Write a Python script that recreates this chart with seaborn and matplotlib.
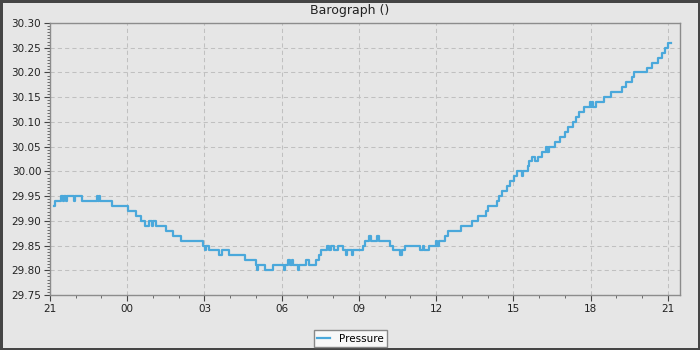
import matplotlib
matplotlib.use("Agg")
import matplotlib.pyplot as plt
import numpy as np
import pandas as pd
import seaborn as sns
from matplotlib.ticker import MultipleLocator, AutoMinorLocator, FormatStrFormatter
from matplotlib.patches import Rectangle

# hours since 21:00 of the first day, and pressure (inHg) - step changes
hours = [0.15, 0.21, 0.44, 0.50, 0.53, 0.63, 0.67, 0.93, 0.97, 1.25, 1.82, 1.86, 1.90, 1.93,
         2.42, 3.03, 3.35, 3.52, 3.70, 3.84, 3.96, 4.00, 4.13, 4.51, 4.77, 5.07, 5.94, 6.03,
         6.07, 6.18, 6.57, 6.70, 6.95, 7.57, 8.00, 8.04, 8.09, 8.35, 8.67, 9.10, 9.14, 9.25,
         9.32, 9.40, 9.45, 9.64, 9.68, 9.96, 10.07, 10.35, 10.45, 10.53, 10.75, 10.85, 10.90,
         11.02, 11.18, 11.38, 11.50, 11.55, 11.74, 11.78, 12.16, 12.22, 12.38, 12.45, 12.71,
         12.78, 13.19, 13.32, 13.58, 13.68, 13.78, 14.39, 14.49, 14.53, 14.71, 15.01, 15.05,
         15.09, 15.34, 15.44, 15.96, 16.38, 16.61, 16.94, 17.00, 17.35, 17.44, 17.55, 17.76,
         17.88, 18.03, 18.13, 18.32, 18.39, 18.56, 18.60, 18.71, 18.84, 18.97, 19.10, 19.26,
         19.30, 19.33, 19.36, 19.40, 19.62, 19.81, 20.01, 20.11, 20.31, 20.44, 20.55, 20.76,
         20.98, 21.03, 21.07, 21.10, 21.22, 21.50, 21.80, 22.21, 22.37, 22.60, 22.70, 23.18,
         23.38, 23.63, 23.76, 23.89, 24.02, 24.11]
pressure = [29.93, 29.94, 29.95, 29.94, 29.95, 29.94, 29.95, 29.94, 29.95, 29.94, 29.95, 29.94, 29.95, 29.94,
            29.93, 29.92, 29.91, 29.90, 29.89, 29.90, 29.89, 29.90, 29.89, 29.88, 29.87, 29.86, 29.85, 29.84,
            29.85, 29.84, 29.83, 29.84, 29.83, 29.82, 29.81, 29.80, 29.81, 29.80, 29.81, 29.80, 29.81, 29.82,
            29.81, 29.82, 29.81, 29.80, 29.81, 29.82, 29.81, 29.82, 29.83, 29.84, 29.85, 29.84, 29.85,
            29.84, 29.85, 29.84, 29.83, 29.84, 29.83, 29.84, 29.85, 29.86, 29.87, 29.86, 29.87,
            29.86, 29.85, 29.84, 29.83, 29.84, 29.85, 29.84, 29.85, 29.84, 29.85, 29.86, 29.85,
            29.86, 29.87, 29.88, 29.89, 29.90, 29.91, 29.92, 29.93, 29.94, 29.95, 29.96, 29.97,
            29.98, 29.99, 30.00, 29.99, 30.00, 30.01, 30.02, 30.03, 30.02, 30.03, 30.04, 30.05,
            30.04, 30.05, 30.04, 30.05, 30.06, 30.07, 30.08, 30.09, 30.10, 30.11, 30.12, 30.13,
            30.14, 30.13, 30.14, 30.13, 30.14, 30.15, 30.16, 30.17, 30.18, 30.19, 30.20, 30.21,
            30.22, 30.23, 30.24, 30.25, 30.26, 30.26]
tick_hours = [0, 3, 6, 9, 12, 15, 18, 21, 24]
tick_labels = ["21", "00", "03", "06", "09", "12", "15", "18", "21"]

df = pd.DataFrame({"hours": hours, "Pressure": pressure})

bg = '#e6e6e6'
fig = plt.figure(figsize=(7, 3.5), dpi=100, facecolor=bg)
ax = fig.add_axes([50 / 700, 1 - 295 / 350, 630 / 700, 272 / 350])
ax.set_facecolor(bg)

sns.lineplot(data=df, x="hours", y="Pressure", ax=ax, drawstyle='steps-post',
             color='#4aa8db', linewidth=1.6, estimator=None, legend=False)
line = ax.get_lines()[0]

ax.set_xlim(0, 24.47)
ax.set_ylim(29.75, 30.30)
ax.set_xticks(tick_hours)
ax.set_xticklabels(tick_labels)
ax.xaxis.set_minor_locator(MultipleLocator(1))
ax.yaxis.set_major_locator(MultipleLocator(0.05))
ax.yaxis.set_major_formatter(FormatStrFormatter('%.2f'))
ax.yaxis.set_minor_locator(AutoMinorLocator(8))
ax.set_xlabel('')
ax.set_ylabel('')

ax.tick_params(which='major', direction='out', length=4.3, width=0.8, color='#444444',
               labelsize=7.5, labelcolor='#222222', pad=2)
ax.tick_params(which='minor', direction='out', length=2.2, width=0.6, color='#555555')
ax.grid(True, which='major', color='#c0c0c0', linestyle=(0, (4, 3)), linewidth=0.75)
ax.set_axisbelow(True)
for s in ax.spines.values():
    s.set_color('#8c8c8c')
    s.set_linewidth(1.0)

fig.text(0.5, 1 - 10.5 / 350, "Barograph ()", ha='center', va='center', fontsize=9, color='#222222')

fig.legend(handles=[line], labels=['Pressure'], loc='center',
           bbox_to_anchor=(350.5 / 700, 1 - 338.5 / 350), fontsize=7.5, frameon=True,
           fancybox=False, edgecolor='#888888', facecolor='#f8f8f8', framealpha=1,
           handlelength=1.2, borderpad=0.35, handletextpad=0.9, borderaxespad=0)

fig.patches.append(Rectangle((0, 0), 1, 1, transform=fig.transFigure, fill=False,
                             edgecolor='#454545', linewidth=3.6))

fig.savefig('out.png', dpi=100, facecolor=bg)
